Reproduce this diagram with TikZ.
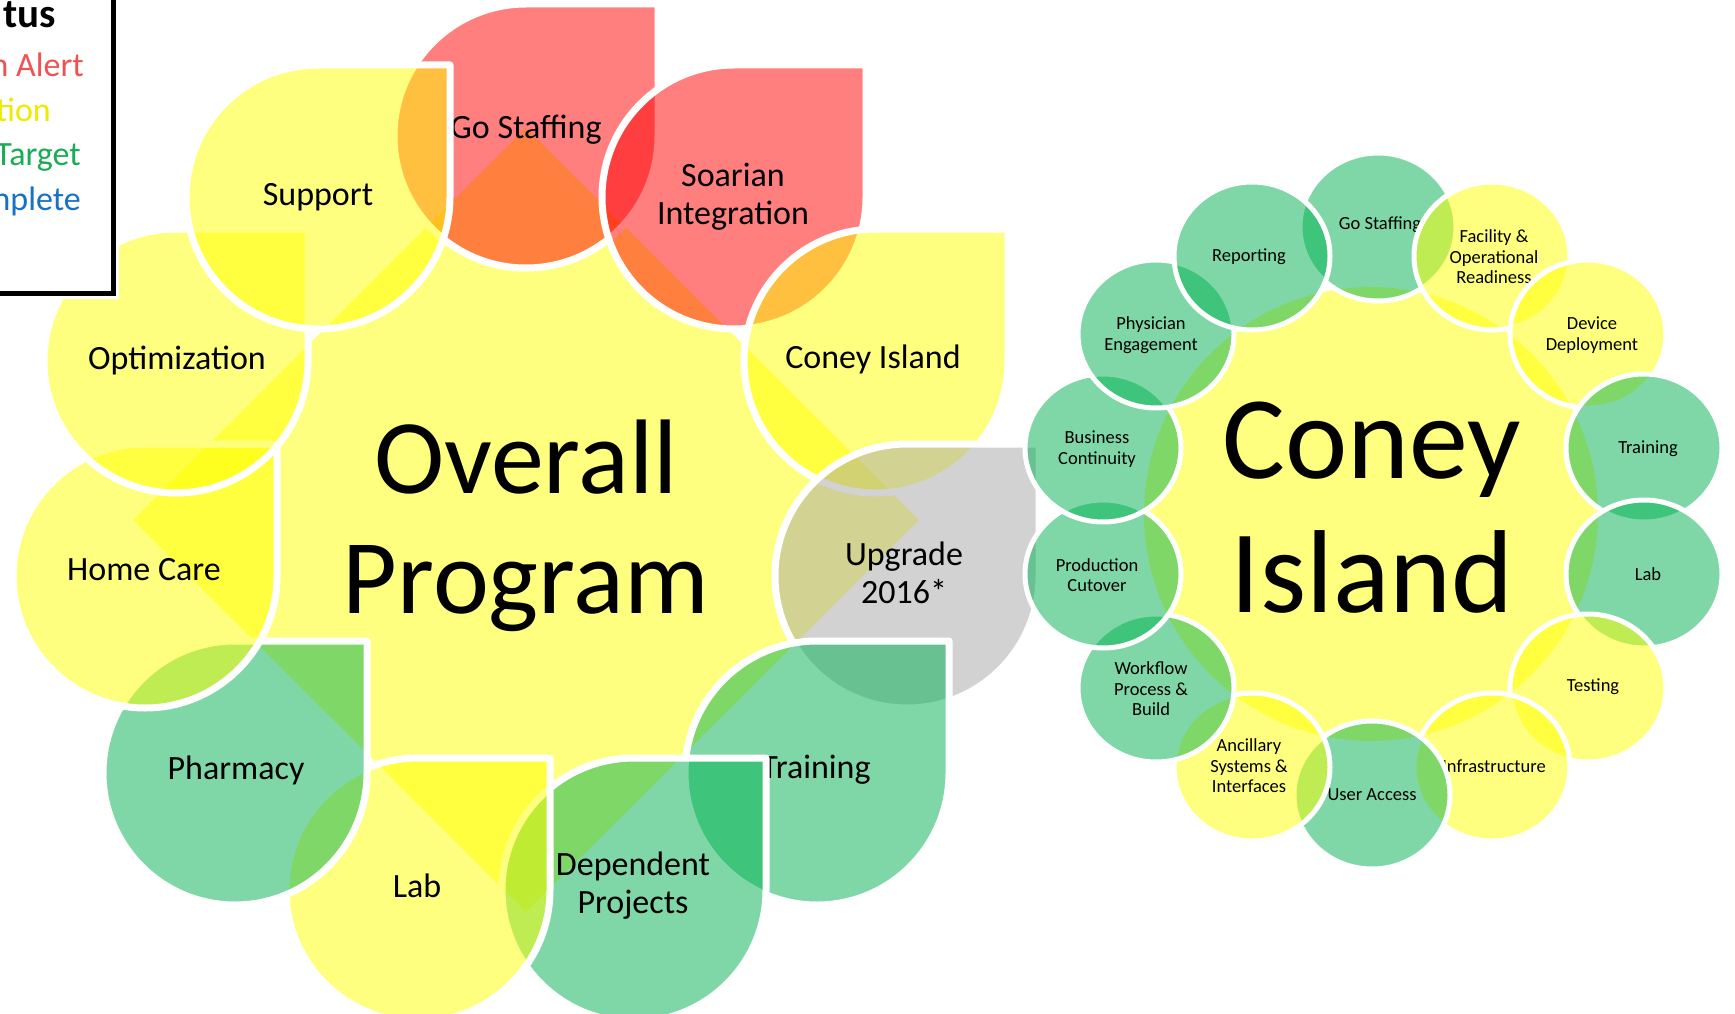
\documentclass[tikz,border=0pt]{standalone}
\usepackage{fontspec}
\setmainfont{Carlito}
\definecolor{alertred}{RGB}{255,0,0}
\definecolor{cautionyellow}{RGB}{255,255,0}
\definecolor{ontarget}{RGB}{0,176,80}
\definecolor{upgradegrey}{RGB}{166,166,166}
\definecolor{keyred}{RGB}{240,82,82}
\definecolor{keyyellow}{RGB}{238,234,0}
\definecolor{keygreen}{RGB}{24,172,84}
\definecolor{keyblue}{RGB}{22,114,196}
\tikzset{
  drop/.style={draw=white, line width=7pt, line join=round, fill opacity=0.5},
  bubble/.style={draw=white, line width=5pt, fill opacity=0.5},
  hub/.style={fill=cautionyellow, fill opacity=0.5},
  droplabel/.style={inner sep=0.75pt, align=center, font=\fontsize{34}{38}\selectfont},
  bubblelabel/.style={inner sep=0.75pt, align=center, font=\fontsize{18.5}{20.5}\selectfont},
  hublabel/.style={inner sep=0.75pt, align=center},
  keylabel/.style={anchor=base east, inner sep=0pt, font=\fontsize{34}{40}\selectfont},
}

\begin{document}
\begin{tikzpicture}[x=1pt,y=1pt,yscale=-1,xscale=1]
\useasboundingbox (0,0) rectangle (1735,1014);

%Shape: Diamond [hub of the program cycle]
\fill[hub] (526,128) -- (919,520) -- (526,912) -- (133,520) -- cycle ;
% Text Node
\node[hublabel, font=\fontsize{106}{120}\selectfont] (overall) at (526,526) {Overall\\Program};

%Shape: Teardrop [Go Staffing]
\draw[drop, fill=alertred] (526,4) -- (658,4) -- (658,136) arc[start angle=0, end angle=270, radius=132] -- cycle ;
% Text Node
\node[droplabel] (gostaff) at (526,130) {Go Staffing};
%Shape: Teardrop [Soarian Integration]
\draw[drop, fill=alertred] (734,65) -- (866,65) -- (866,197) arc[start angle=0, end angle=270, radius=132] -- cycle ;
% Text Node
\node[droplabel] (soarian) at (733,197) {Soarian\\Integration};
%Shape: Teardrop [Coney Island]
\draw[drop, fill=cautionyellow] (876,229) -- (1008,229) -- (1008,361) arc[start angle=0, end angle=270, radius=132] -- cycle ;
% Text Node
\node[droplabel] (coneysite) at (873,359) {Coney Island};
%Shape: Teardrop [Upgrade]
\draw[drop, fill=upgradegrey] (907,444) -- (1039,444) -- (1039,576) arc[start angle=0, end angle=270, radius=132] -- cycle ;
% Text Node
\node[droplabel] (upgrade) at (904,573) {Upgrade\\2016*};
%Shape: Teardrop [Training]
\draw[drop, fill=ontarget] (817,641) -- (949,641) -- (949,773) arc[start angle=0, end angle=270, radius=132] -- cycle ;
% Text Node
\node[droplabel] (training) at (816,770) {Training};
%Shape: Teardrop [Dependent Projects]
\draw[drop, fill=ontarget] (634,758) -- (766,758) -- (766,890) arc[start angle=0, end angle=270, radius=132] -- cycle ;
% Text Node
\node[droplabel] (dependent) at (633,886) {Dependent\\Projects};
%Shape: Teardrop [Lab]
\draw[drop, fill=cautionyellow] (418,758) -- (550,758) -- (550,890) arc[start angle=0, end angle=270, radius=132] -- cycle ;
% Text Node
\node[droplabel] (lab) at (417,886) {Lab};
%Shape: Teardrop [Pharmacy]
\draw[drop, fill=ontarget] (235,641) -- (367,641) -- (367,773) arc[start angle=0, end angle=270, radius=132] -- cycle ;
% Text Node
\node[droplabel] (pharmacy) at (236,770) {Pharmacy};
%Shape: Teardrop [Home Care]
\draw[drop, fill=cautionyellow] (145,444) -- (277,444) -- (277,576) arc[start angle=0, end angle=270, radius=132] -- cycle ;
% Text Node
\node[droplabel] (homecare) at (144,570) {Home Care};
%Shape: Teardrop [Optimization]
\draw[drop, fill=cautionyellow] (176,229) -- (308,229) -- (308,361) arc[start angle=0, end angle=270, radius=132] -- cycle ;
% Text Node
\node[droplabel] (optimization) at (177,360) {Optimization};
%Shape: Teardrop [Support]
\draw[drop, fill=cautionyellow] (318,65) -- (450,65) -- (450,197) arc[start angle=0, end angle=270, radius=132] -- cycle ;
% Text Node
\node[droplabel] (support) at (318,197) {Support};

%Shape: Circle [hub of the Coney Island ring]
\fill[hub] (1371,514) circle[radius=227] ;
% Text Node
\node[hublabel, font=\fontsize{118}{134}\selectfont] (coneyhub) at (1372,508) {Coney\\Island};

%Shape: Ellipse [Go Staffing]
\draw[bubble, fill=ontarget] (1378,227) ellipse[x radius=78, y radius=74] ;
\node[bubblelabel] (ciGostaff) at (1380,225) {Go Staffing};
%Shape: Ellipse [Facility]
\draw[bubble, fill=cautionyellow] (1492,256) ellipse[x radius=78, y radius=74] ;
\node[bubblelabel] (ciFacility) at (1494,257) {Facility \&\\Operational\\Readiness};
%Shape: Ellipse [Device]
\draw[bubble, fill=cautionyellow] (1588,334) ellipse[x radius=78, y radius=74] ;
\node[bubblelabel] (ciDevice) at (1592,335) {Device\\Deployment};
%Shape: Ellipse [Training]
\draw[bubble, fill=ontarget] (1644,448) ellipse[x radius=78, y radius=74] ;
\node[bubblelabel] (ciTraining) at (1648,449) {Training};
%Shape: Ellipse [Lab]
\draw[bubble, fill=ontarget] (1644,574) ellipse[x radius=78, y radius=74] ;
\node[bubblelabel] (ciLab) at (1648,574) {Lab};
%Shape: Ellipse [Testing]
\draw[bubble, fill=cautionyellow] (1588,688) ellipse[x radius=78, y radius=74] ;
\node[bubblelabel] (ciTesting) at (1593,687) {Testing};
%Shape: Ellipse [Infrastructure]
\draw[bubble, fill=cautionyellow] (1492,767) ellipse[x radius=78, y radius=74] ;
\node[bubblelabel] (ciInfra) at (1494,766) {Infrastructure};
%Shape: Ellipse [User Access]
\draw[bubble, fill=ontarget] (1372,795) ellipse[x radius=78, y radius=74] ;
\node[bubblelabel] (ciUser) at (1372,795) {User Access};
%Shape: Ellipse [Ancillary]
\draw[bubble, fill=cautionyellow] (1252,767) ellipse[x radius=78, y radius=74] ;
\node[bubblelabel] (ciAncillary) at (1249,766) {Ancillary\\Systems \&\\Interfaces};
%Shape: Ellipse [Workflow]
\draw[bubble, fill=ontarget] (1156,688) ellipse[x radius=78, y radius=74] ;
\node[bubblelabel] (ciWorkflow) at (1151,689) {Workflow\\Process \&\\Build};
%Shape: Ellipse [Production]
\draw[bubble, fill=ontarget] (1103,574) ellipse[x radius=78, y radius=74] ;
\node[bubblelabel] (ciCutover) at (1097,575) {Production\\Cutover};
%Shape: Ellipse [Business]
\draw[bubble, fill=ontarget] (1103,448) ellipse[x radius=78, y radius=74] ;
\node[bubblelabel] (ciBusiness) at (1097,449) {Business\\Continuity};
%Shape: Ellipse [Physician]
\draw[bubble, fill=ontarget] (1156,334) ellipse[x radius=78, y radius=74] ;
\node[bubblelabel] (ciPhysician) at (1151,335) {Physician\\Engagement};
%Shape: Ellipse [Reporting]
\draw[bubble, fill=ontarget] (1252,256) ellipse[x radius=78, y radius=74] ;
\node[bubblelabel] (ciReporting) at (1249,257) {Reporting};

%Shape: Rectangle [status key]
\draw[white, line width=12pt] (-20,-20) rectangle (113,293) ;
\draw[black, line width=5pt, fill=white] (-20,-20) rectangle (113,293) ;
% Text Node
\node[keylabel, font=\fontsize{41}{46}\selectfont\bfseries] (keyhead) at (56,28) {tus};
\node[keylabel, text=keyred] (keyalert) at (84,77) {n Alert};
\node[keylabel, text=keyyellow] (keycaution) at (51,122) {tion};
\node[keylabel, text=keygreen] (keytarget) at (81,166) {Target};
\node[keylabel, text=keyblue] (keydone) at (81,210) {mplete};

\end{tikzpicture}
\end{document}
